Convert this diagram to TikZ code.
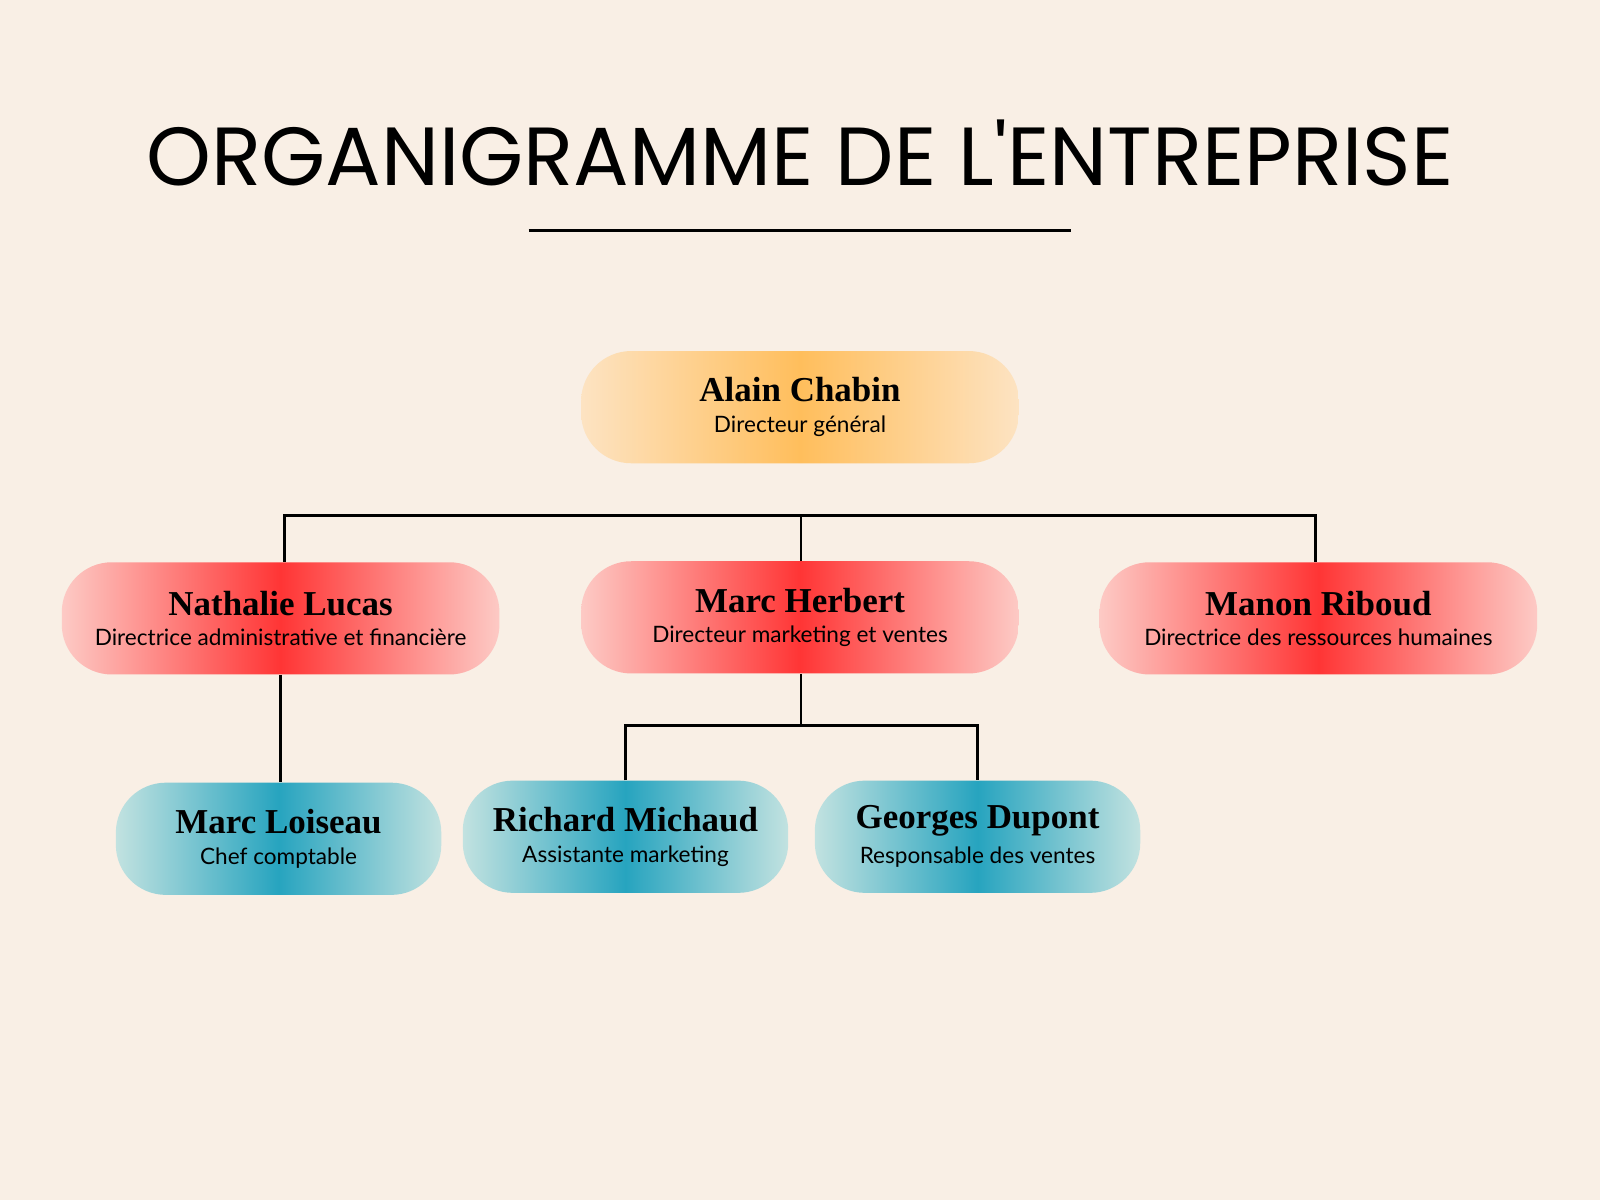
\documentclass[tikz,border=0pt]{standalone}
\usepackage{fontspec}
\setmainfont{Liberation Serif}
\newfontfamily\subf{Lato}
\newfontfamily\titlef{Poppins}
\definecolor{bg}{HTML}{F9EFE5}
\definecolor{orC}{HTML}{FFBE5C}\definecolor{orE}{HTML}{FDE3C2}
\definecolor{rdC}{HTML}{FF3535}\definecolor{rdE}{HTML}{FDCAC5}
\definecolor{tlC}{HTML}{27A4BF}\definecolor{tlE}{HTML}{C2E2E0}
\begin{document}
\begin{tikzpicture}[x=0.02cm,y=-0.02cm,
  pill/.style={rounded corners=0.98cm, minimum height=2.2cm, inner sep=0pt, align=center, text=black},
  big/.style={pill, minimum width=8.58cm},
  small/.style={pill, minimum width=6.38cm},
  orange/.style={left color=orE, right color=orE, middle color=orC},
  red/.style={left color=rdE, right color=rdE, middle color=rdC},
  teal/.style={left color=tlE, right color=tlE, middle color=tlC},
  conn/.style={line width=1.4pt, black}]
\fill[bg] (0,0) rectangle (1568,1176);
\useasboundingbox (0,0) rectangle (1568,1176);
\newcommand{\nm}[2]{{\fontsize{19.5}{22}\selectfont\bfseries #1}\\[5pt]{\subf\fontsize{12.6}{15}\selectfont #2}}
\node[font=\titlef\fontsize{46}{52}\selectfont] (title) at (784,150) {ORGANIGRAMME DE L'ENTREPRISE};
\coordinate (l1) at (518,226); \coordinate (l2) at (1050,226);
\draw[line width=1.6pt] (l1) -- (l2);
\node[big,orange] (alain) at (784,399) {\nm{Alain Chabin}{Directeur général}};
\node[big,red] (nath) at (275,606) {\nm{Nathalie Lucas}{Directrice administrative et financière}};
\node[big,red] (marc) at (784,605) {\nm{Marc Herbert}{Directeur marketing et ventes}};
\node[big,red] (manon) at (1292,606) {\nm{Manon Riboud}{Directrice des ressources humaines}};
\node[small,teal] (lois) at (273,822) {\nm{Marc Loiseau}{Chef comptable}};
\node[small,teal] (rich) at (613,820) {\nm{Richard Michaud}{Assistante marketing}};
\node[small,teal] (geo) at (958,820) {\nm{Georges Dupont}{Responsable des ventes}};
\coordinate (b1) at (279,505); \coordinate (b2) at (785,505); \coordinate (b3) at (1289,505);
\draw[conn] (nath.north -| b1) -- (b1) -- (b3) -- (manon.north -| b3);
\draw[conn] (b2) -- (marc.north -| b2);
\draw[conn] (nath.south) -- (lois.north -| nath.south);
\coordinate (m1) at (785,711);
\draw[conn] (marc.south -| m1) -- (m1);
\draw[conn] (rich.north) |- (m1) -| (geo.north);
\end{tikzpicture}
\end{document}
